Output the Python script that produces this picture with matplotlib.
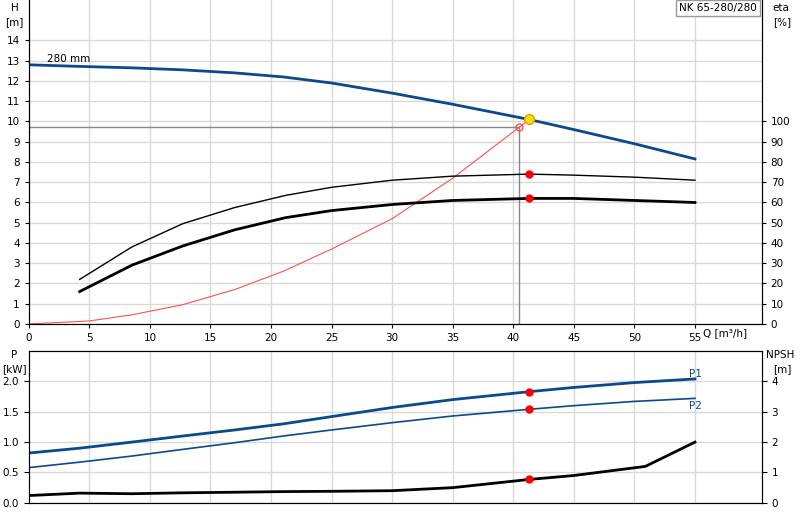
import matplotlib
matplotlib.use("Agg")
import matplotlib.pyplot as plt
import numpy as np

q_h = [0, 4.2, 8.5, 12.7, 17, 21, 25, 30, 35, 41.3, 45, 50, 55]
h_vals = [12.8, 12.72, 12.65, 12.55, 12.4, 12.2, 11.9, 11.4, 10.85, 10.1, 9.6, 8.9, 8.15]
q_eta = [4.2, 8.5, 12.7, 17, 21.2, 25, 30, 35, 41.3, 45, 50, 55]
eta_thick = [16, 29, 38.5, 46.5, 52.5, 56, 59, 61, 62, 62, 61, 60]
eta_thin = [22, 38, 49.5, 57.5, 63.5, 67.5, 71, 73, 74, 73.5, 72.5, 71]
q_sys = [0, 5, 8.5, 12.7, 17, 21, 25, 30, 35, 40.5, 41.3]
h_sys = [0, 0.15, 0.45, 0.95, 1.7, 2.6, 3.7, 5.2, 7.2, 9.72, 10.1]
duty_q, duty_h = 41.3, 10.1
req_q, req_h = 40.5, 9.72
q_p = [0, 4.2, 8.5, 12.7, 17, 21, 25, 30, 35, 41.3, 45, 50, 55]
p1 = [0.82, 0.9, 1.0, 1.1, 1.2, 1.3, 1.42, 1.57, 1.7, 1.83, 1.9, 1.98, 2.04]
p2 = [0.58, 0.67, 0.77, 0.88, 0.99, 1.1, 1.2, 1.32, 1.43, 1.54, 1.6, 1.67, 1.72]
q_npsh = [0, 4.2, 8.5, 12.7, 17, 21, 25, 30, 35, 41.3, 45, 50.9, 55]
npsh = [0.24, 0.32, 0.3, 0.33, 0.35, 0.37, 0.38, 0.4, 0.5, 0.77, 0.9, 1.2, 2.0]

blue = "#0b4a8a"
gridc = "#d9d9d9"
fs = 7.5
fig = plt.figure(figsize=(8, 5.2), dpi=100)
ax = fig.add_axes([0.036, 0.377, 0.916, 0.623])
ax.set_xlim(0, 60.5); ax.set_ylim(0, 16)
ax.set_xticks(np.arange(0, 60, 5)); ax.set_yticks(np.arange(0, 15, 1))
ax.grid(True, color=gridc, lw=1)
ax.set_axisbelow(True)
ax.tick_params(labelsize=fs, length=3)
ax.spines['top'].set_visible(False)
ax.plot(q_h, h_vals, color=blue, lw=2)
ax.plot(q_sys, h_sys, color="#ff5050", lw=0.8)
ax.plot([0, req_q], [req_h, req_h], color="#888", lw=1)
ax.plot([req_q, req_q], [0, req_h], color="#888", lw=1)
ax.plot(req_q, req_h, 'o', mfc='none', mec='#ff5050', ms=5)
ax.plot(duty_q, duty_h, 'o', color='#ffe000', mec='#e0a000', ms=7, zorder=5)
ax.text(1.5, 12.95, "280 mm", fontsize=fs)
fig.text(0.018, 0.985, "H", fontsize=fs, ha='center', va='center')
fig.text(0.018, 0.958, "[m]", fontsize=fs, ha='center', va='center')
ax.text(57.5, -0.2, "Q [m³/h]", fontsize=fs, ha='center', va='top')
ax.text(60.1, 15.6, "NK 65-280/280", fontsize=fs, ha='right', va='center',
        bbox=dict(fc='white', ec='#999', boxstyle='square,pad=0.3'))
ax2 = ax.twinx()
ax2.set_ylim(0, 160); ax2.set_yticks(np.arange(0, 101, 10))
ax2.tick_params(labelsize=fs, length=3)
ax2.spines['top'].set_visible(False)
ax2.plot(q_eta, eta_thick, color='black', lw=2)
ax2.plot(q_eta, eta_thin, color='black', lw=1)
ax2.plot([duty_q, duty_q], [62, 74], 'o', color='red', ms=5, ls='none')
fig.text(0.966, 0.985, "eta", fontsize=fs, va='center')
fig.text(0.966, 0.958, "[%]", fontsize=fs, va='center')

bx = fig.add_axes([0.036, 0.033, 0.916, 0.292])
bx.set_xlim(0, 60.5); bx.set_ylim(0, 2.5)
bx.set_xticks(np.arange(5, 60, 5)); bx.set_xticklabels([])
bx.tick_params(axis='x', length=0)
bx.set_yticks(np.arange(0, 2.01, 0.5))
bx.tick_params(labelsize=fs)
bx.grid(True, color=gridc, lw=1); bx.set_axisbelow(True)
bx.plot(q_p, p1, color=blue, lw=2)
bx.plot(q_p, p2, color=blue, lw=1.2)
bx.plot([duty_q, duty_q], [1.83, 1.54], 'o', color='red', ms=5, ls='none')
bx.text(54.5, 2.07, "P1", color=blue, fontsize=fs)
bx.text(54.5, 1.55, "P2", color=blue, fontsize=fs)
fig.text(0.018, 0.318, "P", fontsize=fs, ha='center', va='center')
fig.text(0.018, 0.291, "[kW]", fontsize=fs, ha='center', va='center')
bx2 = bx.twinx()
bx2.set_ylim(0, 5); bx2.set_yticks(range(0, 5))
bx2.tick_params(labelsize=fs)
bx2.plot(q_npsh, npsh, color='black', lw=2)
bx2.plot(duty_q, 0.77, 'o', color='red', ms=5)
fig.text(0.958, 0.318, "NPSH", fontsize=fs, va='center')
fig.text(0.966, 0.291, "[m]", fontsize=fs, va='center')
fig.savefig("out.png", dpi=100)
